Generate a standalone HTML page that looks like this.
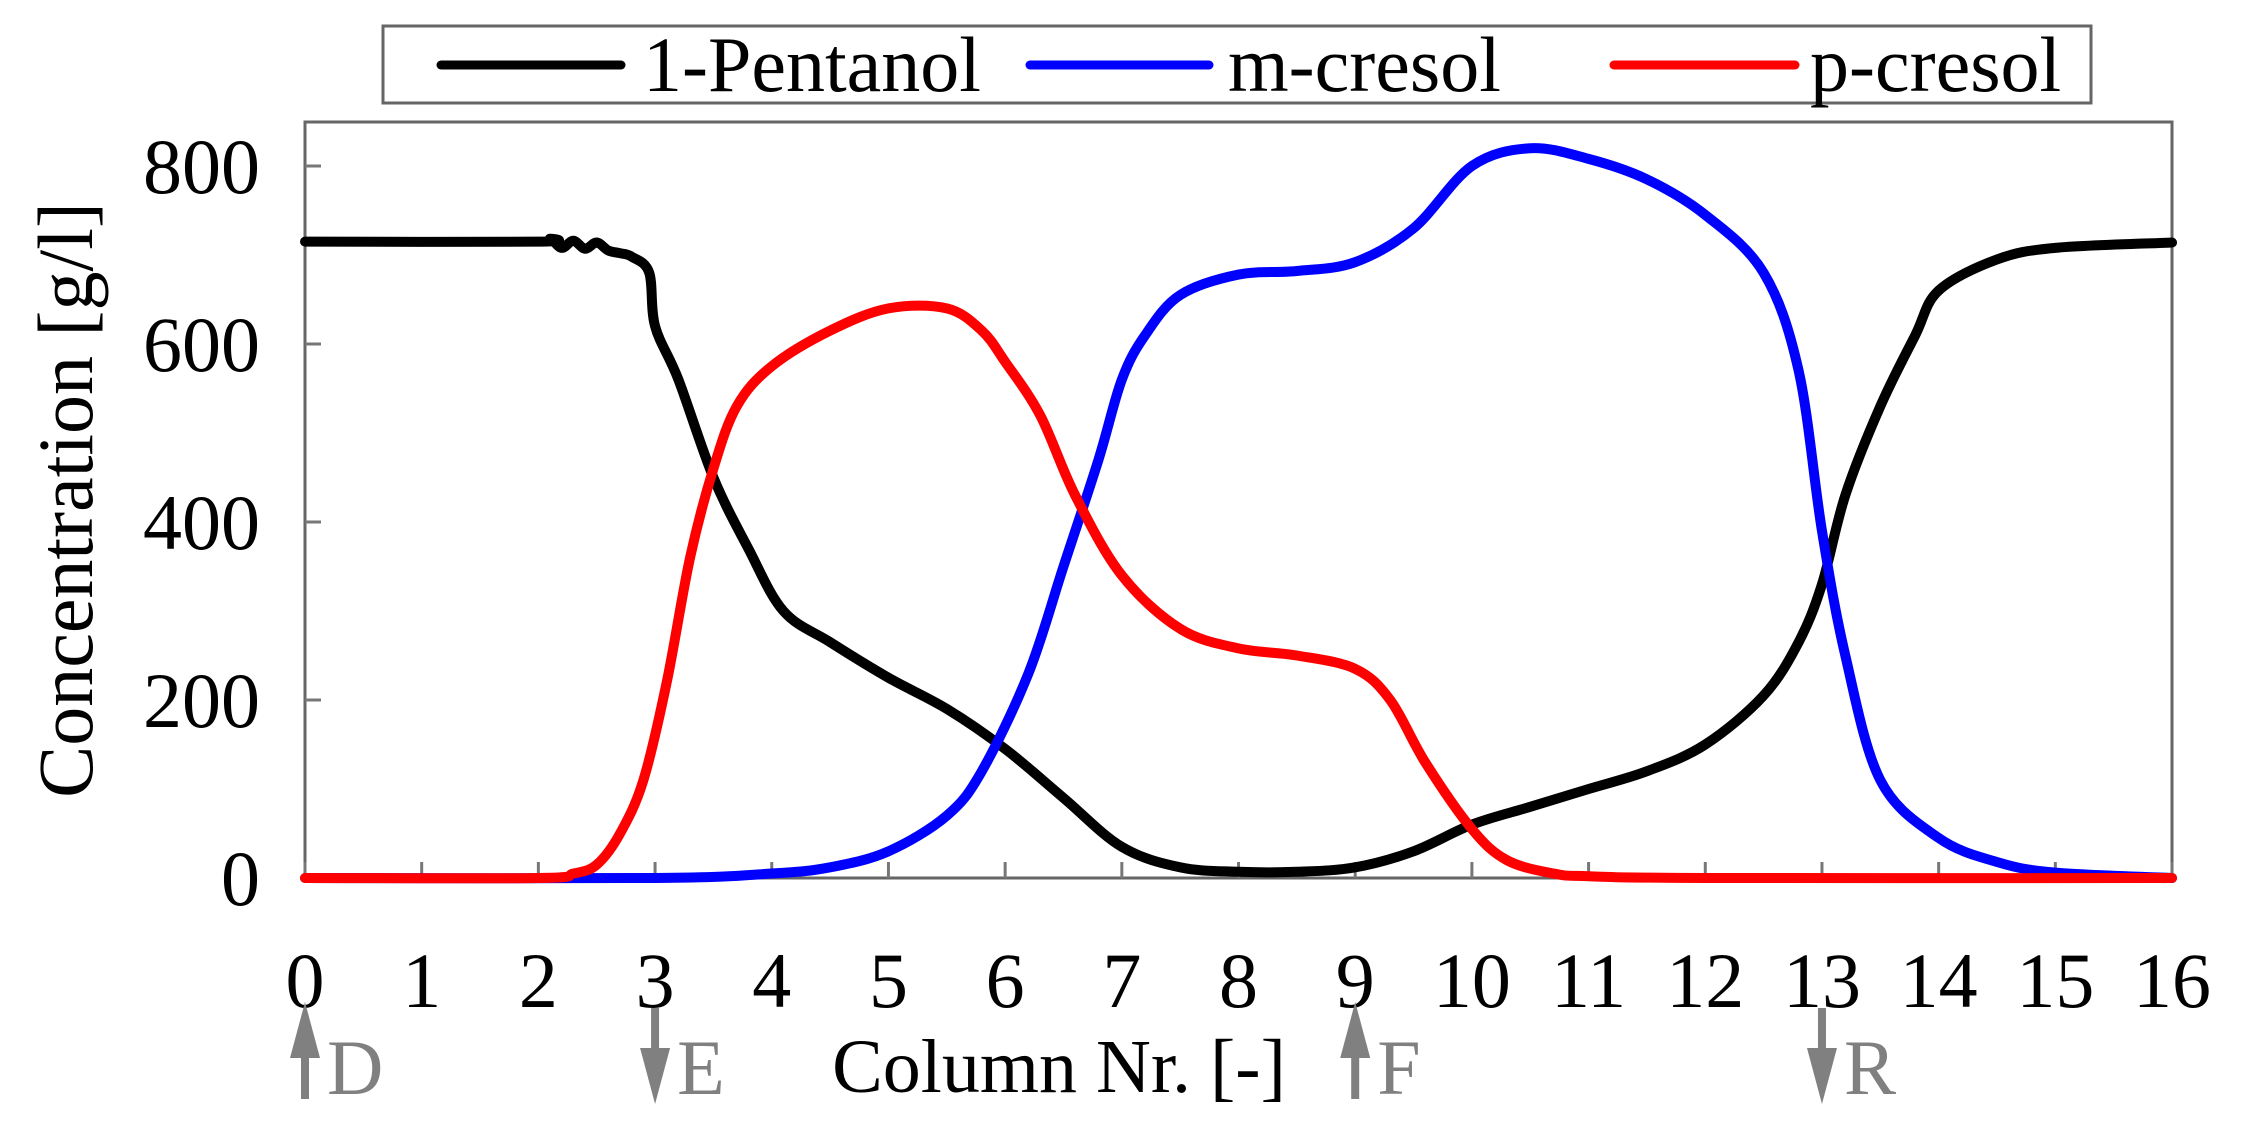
<!DOCTYPE html>
<html><head><meta charset="utf-8"><style>
html,body{margin:0;padding:0;background:#fff;}
svg{display:block;}
text{font-family:"Liberation Serif",serif;}
</style></head><body>
<svg id="s" width="2243" height="1142" viewBox="0 0 2243 1142" xmlns="http://www.w3.org/2000/svg">
<rect x="383" y="26" width="1708" height="77" fill="#fff" stroke="#666" stroke-width="3"/>
<line x1="441" y1="65" x2="621" y2="65" stroke="#000" stroke-width="9" stroke-linecap="round"/>
<text x="643" y="91" font-size="78">1-Pentanol</text>
<line x1="1030" y1="65" x2="1209" y2="65" stroke="#00f" stroke-width="9" stroke-linecap="round"/>
<text x="1228" y="91" font-size="78">m-cresol</text>
<line x1="1614" y1="65" x2="1795" y2="65" stroke="#f00" stroke-width="9" stroke-linecap="round"/>
<text x="1810" y="91" font-size="78">p-cresol</text>
<rect x="305" y="122" width="1867" height="756" fill="none" stroke="#666" stroke-width="3"/>
<g id="ticks" stroke="#777" stroke-width="3"></g>
<g id="lbl" font-size="78" fill="#000"></g>
<g id="curves" fill="none" stroke-width="10" stroke-linejoin="round" stroke-linecap="round"></g>
<text transform="translate(92,500) rotate(-90)" text-anchor="middle" font-size="78">Concentration [g/l]</text>
<text x="1059" y="1092" text-anchor="middle" font-size="76">Column Nr. [-]</text>
<g id="arr" fill="#808080"></g>
</svg>
<script>
const X=c=>305+c*116.69, Y=v=>878-v*0.89;
const ns="http://www.w3.org/2000/svg";
function el(p,t,a,txt){const e=document.createElementNS(ns,t);for(const k in a)e.setAttribute(k,a[k]);if(txt!=null)e.textContent=txt;document.getElementById(p).appendChild(e);}
for(let v=0;v<=800;v+=200){el('ticks','line',{x1:305,x2:321,y1:Y(v),y2:Y(v)});el('lbl','text',{x:260,y:Y(v)+27,'text-anchor':'end'},v);}
for(let c=0;c<=16;c++){el('ticks','line',{x1:X(c),x2:X(c),y1:878,y2:862});el('lbl','text',{x:X(c),y:1007,'text-anchor':'middle'},c);}
const black=[[0,715],[2,715],[2.1,718],[2.2,708],[2.3,716],[2.4,707],[2.5,714],[2.6,705],[2.7,702],[2.8,698],[2.95,680],[3.0,620],[3.2,560],[3.5,450],[3.8,370],[4.1,300],[4.5,265],[5,225],[5.5,190],[6,145],[6.5,90],[7,35],[7.5,12],[8,7],[8.5,7],[9,12],[9.5,30],[10,60],[10.5,80],[11,100],[11.5,120],[12,150],[12.5,205],[12.8,265],[13,330],[13.2,430],[13.5,530],[13.8,610],[14,660],[14.5,695],[15,708],[16,714]];
const blue=[[0,0],[3,0],[4,5],[4.5,12],[5,30],[5.5,70],[5.8,120],[6.2,230],[6.5,350],[6.8,470],[7,560],[7.2,610],[7.5,655],[8,678],[8.5,682],[9,692],[9.5,730],[10,800],[10.5,820],[11,808],[11.5,785],[12,745],[12.5,680],[12.8,570],[13,390],[13.2,250],[13.5,110],[14,45],[14.5,18],[15,6],[16,0]];
const red=[[0,0],[2,0],[2.3,5],[2.5,15],[2.7,50],[2.9,110],[3.1,220],[3.3,360],[3.5,460],[3.7,530],[4,575],[4.5,615],[5,640],[5.5,640],[5.8,615],[6,580],[6.3,520],[6.6,430],[7,340],[7.5,280],[8,258],[8.5,250],[9,235],[9.3,200],[9.6,130],[10,55],[10.3,20],[10.7,5],[11,2],[12,0],[16,0]];
function path(d){const p=d.map(a=>[X(a[0]),Y(a[1])]);let s=`M${p[0][0]},${p[0][1]}`;
for(let i=0;i<p.length-1;i++){const a=p[i-1]||p[i],b=p[i],c=p[i+1],e=p[i+2]||c;
s+=` C${b[0]+(c[0]-a[0])/6},${b[1]+(c[1]-a[1])/6} ${c[0]-(e[0]-b[0])/6},${c[1]-(e[1]-b[1])/6} ${c[0]},${c[1]}`;}return s;}
el('curves','path',{d:path(black),stroke:'#000'});
el('curves','path',{d:path(blue),stroke:'#00f'});
el('curves','path',{d:path(red),stroke:'#f00'});
function arrow(c,up,lab){const x=X(c);
if(up){el('arr','polygon',{points:`${x-15},1058 ${x+15},1058 ${x},1002`});el('arr','rect',{x:x-4,y:1050,width:8,height:49});}
else{el('arr','rect',{x:x-4,y:1008,width:8,height:50});el('arr','polygon',{points:`${x-15},1048 ${x+15},1048 ${x},1104`});}
el('arr','text',{x:x+22,y:1094,'font-size':78},lab);}
arrow(0,true,'D');arrow(3,false,'E');arrow(9,true,'F');arrow(13,false,'R');
</script>
</body></html>
